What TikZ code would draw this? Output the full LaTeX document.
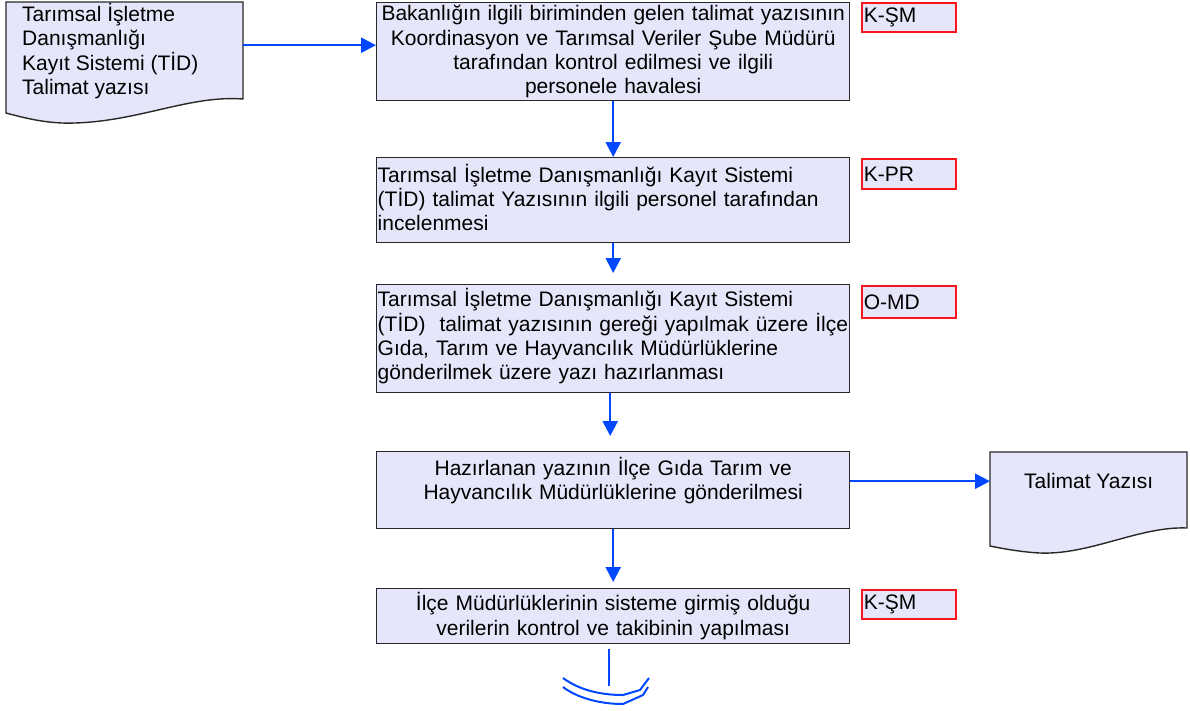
\documentclass[tikz,border=0pt]{standalone}
\usepackage{fontspec}
\setmainfont{Liberation Sans}
\usetikzlibrary{arrows.meta,calc}
\definecolor{boxfill}{RGB}{230,230,250}
\definecolor{flowblue}{RGB}{0,72,255}
\definecolor{edgegray}{RGB}{40,40,40}
\definecolor{tagred}{RGB}{250,20,30}
\newcommand{\lowpad}[1]{\rule[-#1]{0pt}{#1}}
\begin{document}
\begin{tikzpicture}[x=1pt,y=-1pt,
  every node/.style={font=\fontsize{21}{24.3}\selectfont},
  procbox/.style={draw=edgegray, line width=1.4pt, fill=boxfill, anchor=north west,
    inner xsep=1pt, inner ysep=0pt, text width=471pt},
  tagbox/.style={draw=tagred, line width=1.6pt, fill=boxfill, anchor=north west,
    text width=90pt, align=left, inner xsep=2pt, inner ysep=0pt},
  docshape/.style={draw=edgegray, line width=1.4pt, fill=boxfill},
  docarea/.style={anchor=north west, inner sep=0pt},
  flow/.style={draw=flowblue, line width=2.4pt, -{Triangle[length=15pt,width=15pt]}},
  endline/.style={draw=flowblue, line width=2.2pt},
]
\useasboundingbox (0,0) rectangle (1190,710);

% document shape 1
\path[docshape] (6,2) -- (243,2) -- (243,99)
  .. controls (190,95) and (140,121) .. (75,123)
  .. controls (50,124) and (28,119) .. (6,113) -- cycle;
\node[docarea, minimum width=237pt, minimum height=86pt] (doc1) at (6,2) {};
\node[anchor=north west, align=left, inner sep=0pt] (doc1text) at (22,3)
  {Tarımsal İşletme\\Danışmanlığı\\Kayıt Sistemi (TİD)\\Talimat yazısı};

% process boxes
\node[procbox, align=center, minimum height=98pt] (b1) at (376,2)
  {\mbox{Bakanlığın ilgili biriminden gelen talimat yazısının}\\
   Koordinasyon ve Tarımsal Veriler Şube Müdürü\\
   tarafından kontrol edilmesi ve ilgili\\
   personele havalesi};
\node[procbox, align=left, minimum height=85pt] (b2) at (376,157)
  {Tarımsal İşletme Danışmanlığı Kayıt Sistemi\\
   (TİD) talimat Yazısının ilgili personel tarafından\\
   incelenmesi\lowpad{6pt}};
\node[procbox, align=left, minimum height=108pt] (b3) at (376,284)
  {Tarımsal İşletme Danışmanlığı Kayıt Sistemi\\
   \mbox{(TİD)\ \ talimat yazısının gereği yapılmak üzere İlçe}\\
   Gıda, Tarım ve Hayvancılık Müdürlüklerine\\
   gönderilmek üzere yazı hazırlanması\lowpad{9pt}};
\node[procbox, align=center, minimum height=77pt] (b4) at (376,451)
  {Hazırlanan yazının İlçe Gıda Tarım ve\\
   Hayvancılık Müdürlüklerine gönderilmesi\\
   \mbox{}};
\node[procbox, align=center, minimum height=55pt] (b5) at (376,588)
  {İlçe Müdürlüklerinin sisteme girmiş olduğu\\
   verilerin kontrol ve takibinin yapılması};

% tags
\node[tagbox, minimum height=29pt] (t1) at (861,2) {K-ŞM};
\node[tagbox, minimum height=30pt] (t2) at (861,158) {K-PR};
\node[tagbox, minimum height=32pt] (t3) at (861,285) {O-MD};
\node[tagbox, minimum height=29pt] (t5) at (861,589) {K-ŞM};

% document shape 2
\path[docshape] (990,452) -- (1187,452) -- (1187,528)
  .. controls (1140,526) and (1090,555) .. (1040,553)
  .. controls (1020,552) and (1000,548) .. (990,546) -- cycle;
\node[docarea, minimum width=197pt, minimum height=58pt] (doc2) at (990,452) {Talimat Yazısı};

% connectors
\draw[flow] (doc1.east) -- (doc1.east -| b1.west);
\draw[flow] (b1.south) -- (b2.north);
\draw[flow, shorten >=11pt] (b2.south) -- (b3.north);
\draw[flow, shorten >=15pt] ($(b3.south)+(-3,0)$) -- ($(b4.north)+(-3,0)$);
\draw[flow, shorten >=6pt] (b4.south) -- (b5.north);
\draw[flow] (b4.east |- doc2.west) -- (doc2.west);

% terminal
\coordinate (endpt) at (609,686);
\draw[endline, shorten <=5pt] (b5.south -| endpt) -- (endpt);
\draw[endline, line width=2pt] (563,678) .. controls (578,689) and (598,695) .. (623,695) -- (640,690) -- (649,678);
\draw[endline, line width=2pt] (563,687) .. controls (576,697) and (598,704) .. (623,704) -- (643,695) -- (648,687);
\end{tikzpicture}
\end{document}
